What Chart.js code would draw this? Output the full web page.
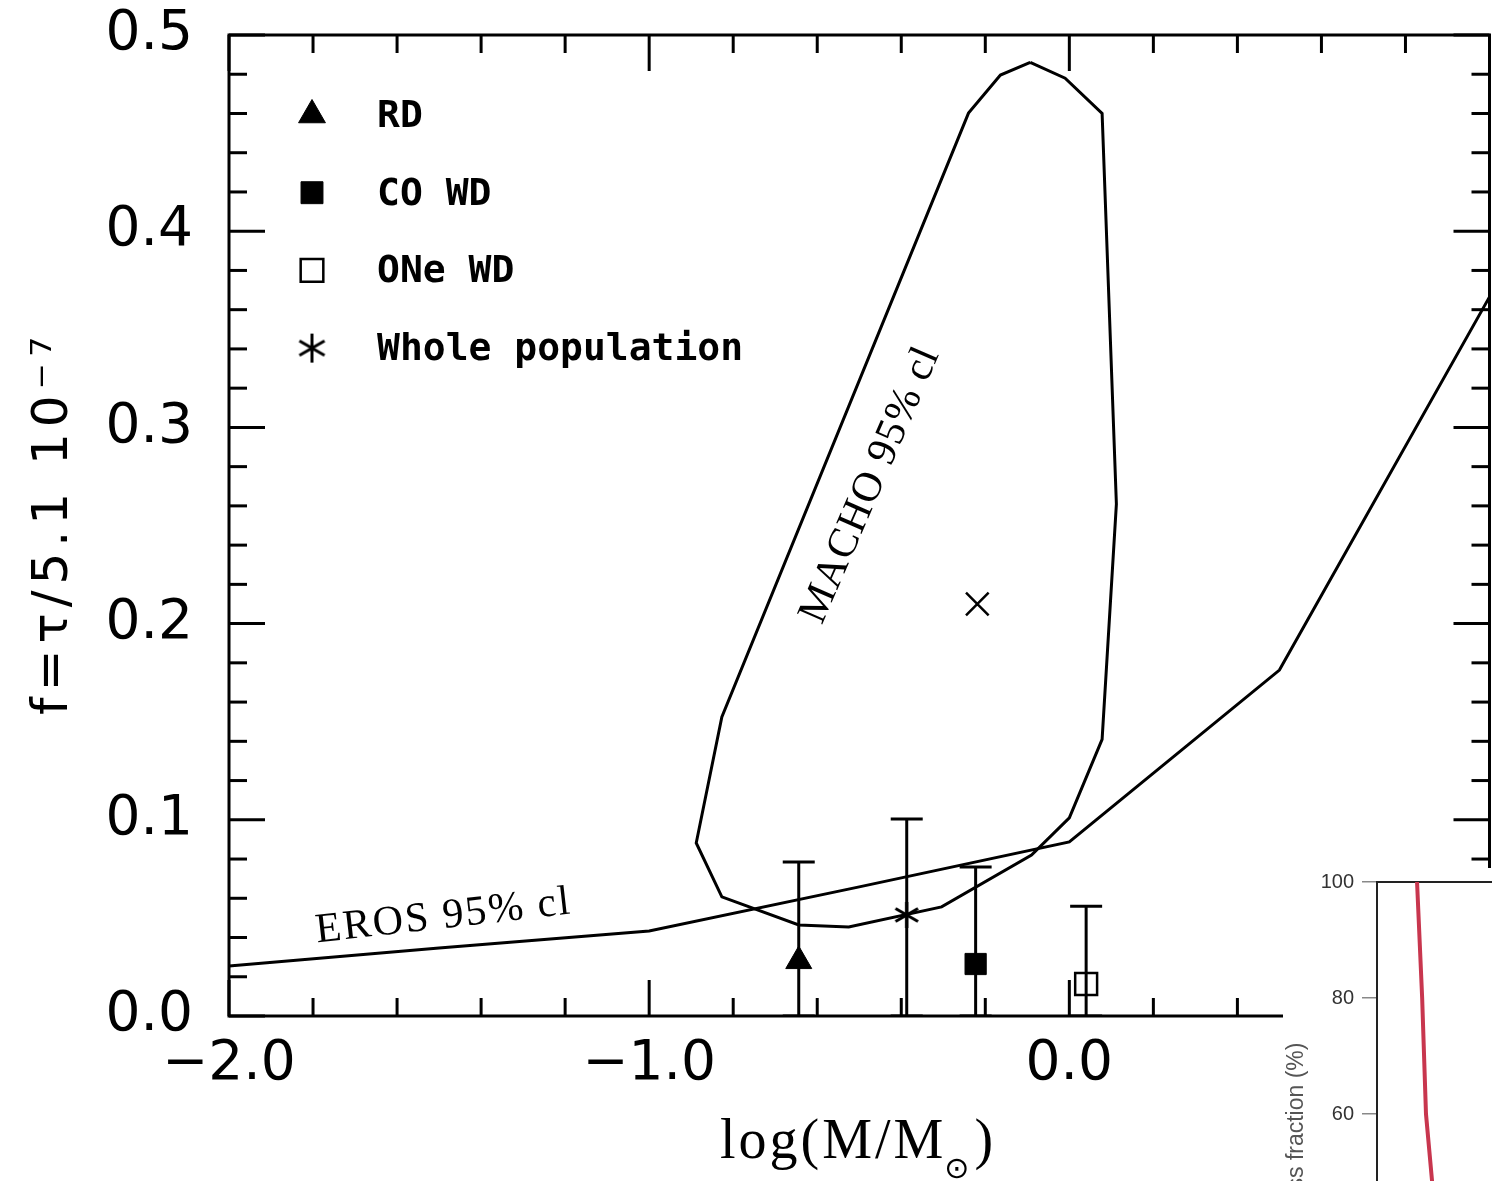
<!DOCTYPE html>
<html>
<head>
<meta charset="utf-8">
<script src="https://cdn.jsdelivr.net/npm/chart.js@4.4.1/dist/chart.umd.min.js"></script>
<style>
  html, body { margin: 0; padding: 0; background: #fff; overflow: hidden; width: 1492px; height: 1181px; }
  #mainWrap { position: absolute; left: 0; top: 0; width: 1492px; height: 1181px; overflow: hidden; }
  #main { position: absolute; left: 0; top: 0; }
  #insetWrap { position: absolute; left: 1283px; top: 868px; width: 209px; height: 313px; overflow: hidden; background: #fff; }
  #inset { position: absolute; left: 0; top: 0; }
</style>
</head>
<body>
<div id="mainWrap"><canvas id="main" width="1508" height="1181"></canvas></div>
<div id="insetWrap"><canvas id="inset" width="520" height="520"></canvas></div>
<script>
// ---------------- data ----------------
const xTickValues = [-2, -1, 0, 1];
const xTickLabels = ['\u22122.0', '\u22121.0', '0.0', ''];
const yTickValues = [0, 0.1, 0.2, 0.3, 0.4, 0.5];
const yTickLabels = ['0.0', '0.1', '0.2', '0.3', '0.4', '0.5'];

const erosX = [-2.0, -1.5, -1.0, -0.5, 0.0, 0.5, 1.0];
const erosY = [0.0255, 0.0347, 0.0433, 0.0658, 0.0887, 0.1763, 0.3665];

const machoX = [-0.093, -0.010, 0.078, 0.112, 0.078, 0.000, -0.090, -0.304, -0.525, -0.644, -0.827, -0.888, -0.827, -0.240, -0.164, -0.093];
const machoY = [0.486, 0.478, 0.460, 0.261, 0.141, 0.101, 0.082, 0.0556, 0.0454, 0.0464, 0.0607, 0.0882, 0.1524, 0.4602, 0.4796, 0.486];

const machoBestX = [-0.219];
const machoBestY = [0.210];

const popLabels = ['RD', 'CO WD', 'ONe WD', 'Whole population'];
const popX = [-0.644, -0.223, 0.040, -0.387];
const popY = [0.028, 0.0265, 0.0163, 0.0515];
const popErrLow = [0, 0, 0, 0];
const popErrHigh = [0.0785, 0.076, 0.056, 0.1004];

const insetYTicks = [100, 80, 60];
const insetLineX = [0.094, 0.106, 0.115, 0.131];
const insetLineY = [100, 80, 60, 47];

// ---------------- helpers ----------------
function makeAsterisk(size, lw) {
  const c = document.createElement('canvas');
  c.width = size; c.height = size;
  const g = c.getContext('2d');
  g.strokeStyle = '#000'; g.lineWidth = lw;
  const h = size / 2, r = size / 2 - 1;
  for (let k = 0; k < 3; k++) {
    const a = Math.PI / 2 + k * Math.PI / 3;
    g.beginPath();
    g.moveTo(h + r * Math.cos(a), h + r * Math.sin(a));
    g.lineTo(h - r * Math.cos(a), h - r * Math.sin(a));
    g.stroke();
  }
  return c;
}
const asterisk = makeAsterisk(28, 3);
const asteriskBig = makeAsterisk(31, 3);

const pts = (xs, ys) => xs.map((x, i) => ({ x: x, y: ys[i] }));

const popStyles = [
  { pointStyle: 'triangle', radius: 15, bg: '#000', bw: 1 },
  { pointStyle: 'rect', radius: 15, bg: '#000', bw: 1 },
  { pointStyle: 'rect', radius: 15.5, bg: 'rgba(0,0,0,0)', bw: 2.5 },
  { pointStyle: asterisk, radius: 14, bg: '#000', bw: 1 }
];

// ---------------- plugins ----------------
const frameTicks = {
  id: 'frameTicks',
  afterDatasetsDraw(chart) {
    const { ctx, chartArea: a, scales: { x, y } } = chart;
    ctx.save();
    ctx.strokeStyle = '#000';
    ctx.lineWidth = 3;
    ctx.strokeRect(a.left, a.top, a.right - a.left, a.bottom - a.top);
    const seg = (x1, y1, x2, y2) => { ctx.beginPath(); ctx.moveTo(x1, y1); ctx.lineTo(x2, y2); ctx.stroke(); };
    const nx = Math.round((x.max - x.min) / 0.2);
    for (let i = 0; i <= nx; i++) {
      const v = x.min + i * 0.2;
      const L = (i % 5 === 0) ? 36 : 18;
      const px = x.getPixelForValue(v);
      seg(px, a.bottom, px, a.bottom - L);
      seg(px, a.top, px, a.top + L);
    }
    const ny = Math.round((y.max - y.min) / 0.02);
    for (let i = 0; i <= ny; i++) {
      const v = y.min + i * 0.02;
      const L = (i % 5 === 0) ? 36 : 18;
      const py = y.getPixelForValue(v);
      seg(a.left, py, a.left + L, py);
      seg(a.right, py, a.right - L, py);
    }
    ctx.restore();
  }
};

const errorBars = {
  id: 'errorBars',
  beforeDatasetsDraw(chart) {
    const { ctx, chartArea: a, scales: { x, y } } = chart;
    ctx.save();
    ctx.beginPath();
    ctx.rect(a.left, a.top, a.right - a.left, a.bottom - a.top);
    ctx.clip();
    ctx.strokeStyle = '#000';
    ctx.lineWidth = 3;
    for (let i = 0; i < popX.length; i++) {
      const px = x.getPixelForValue(popX[i]);
      const lo = y.getPixelForValue(popErrLow[i]);
      const hi = y.getPixelForValue(popErrHigh[i]);
      ctx.beginPath();
      ctx.moveTo(px, lo); ctx.lineTo(px, hi);
      ctx.moveTo(px - 16, hi); ctx.lineTo(px + 16, hi);
      ctx.moveTo(px - 16, lo); ctx.lineTo(px + 16, lo);
      ctx.stroke();
    }
    ctx.restore();
  }
};

const legendAndText = {
  id: 'legendAndText',
  afterDraw(chart) {
    const { ctx, scales: { x, y } } = chart;
    ctx.save();
    // legend
    const mx = 312, tx = 377, top = 115, gap = 77.7;
    for (let i = 0; i < popLabels.length; i++) {
      const cy = top + i * gap;
      const st = popStyles[i];
      ctx.fillStyle = st.bg;
      ctx.strokeStyle = '#000';
      ctx.lineWidth = st.bw;
      const ps = i === 3 ? asteriskBig : st.pointStyle;
      Chart.helpers.drawPoint(ctx, { pointStyle: ps, rotation: 0, radius: st.radius + 0.5, borderWidth: st.bw }, mx, cy);
      ctx.fillStyle = '#000';
      ctx.font = 'bold 38px "DejaVu Sans Mono"';
      ctx.textAlign = 'left';
      ctx.textBaseline = 'middle';
      ctx.fillText(popLabels[i], tx, cy + 2);
    }
    // y axis title
    ctx.save();
    ctx.translate(67, 523);
    ctx.rotate(-Math.PI / 2);
    ctx.font = '50px "DejaVu Sans"';
    ctx.letterSpacing = '6px';
    ctx.textAlign = 'center';
    ctx.textBaseline = 'alphabetic';
    ctx.fillStyle = '#000';
    ctx.fillText('f=\u03c4/5.1 10\u207b\u2077', 0, 0);
    ctx.restore();
    // x axis title with subscript sun symbol
    ctx.save();
    ctx.fillStyle = '#000';
    ctx.textBaseline = 'alphabetic';
    ctx.textAlign = 'left';
    ctx.letterSpacing = '3px';
    const mainFont = '56px "Liberation Serif"';
    const subFont = '30px "DejaVu Sans"';
    ctx.font = mainFont;
    const p1 = 'log(M/M', p3 = ')';
    const w1 = ctx.measureText(p1).width, w3 = ctx.measureText(p3).width;
    ctx.font = subFont;
    const w2 = ctx.measureText('\u2299').width;
    let sx = 858 - (w1 + w2 + w3) / 2;
    const base = 1158;
    ctx.font = mainFont; ctx.fillText(p1, sx, base); sx += w1;
    ctx.font = subFont; ctx.fillText('\u2299', sx - 2, base + 20); sx += w2;
    ctx.font = mainFont; ctx.fillText(p3, sx, base);
    ctx.restore();
    // curve labels
    const label = (text, vx, vy, deg, font, ls) => {
      ctx.save();
      ctx.translate(x.getPixelForValue(vx), y.getPixelForValue(vy));
      ctx.rotate(deg * Math.PI / 180);
      ctx.font = font;
      ctx.letterSpacing = ls;
      ctx.textAlign = 'center';
      ctx.textBaseline = 'middle';
      ctx.fillStyle = '#000';
      ctx.fillText(text, 0, 0);
      ctx.restore();
    };
    label('EROS 95% cl', -1.489, 0.0505, -6.5, '42px "Liberation Serif"', '2px');
    label('MACHO 95% cl', -0.473, 0.2706, -66.6, '42px "Liberation Serif"', '1px');
    ctx.restore();
  }
};

// ---------------- main chart ----------------
const popDatasets = popLabels.map((lab, i) => ({
  label: lab,
  data: [{ x: popX[i], y: popY[i] }],
  showLine: false,
  pointStyle: popStyles[i].pointStyle,
  pointRadius: popStyles[i].radius,
  pointBackgroundColor: popStyles[i].bg,
  pointBorderColor: '#000',
  pointBorderWidth: popStyles[i].bw
}));

new Chart(document.getElementById('main'), {
  type: 'scatter',
  data: {
    datasets: [
      { label: 'EROS 95% cl', data: pts(erosX, erosY), showLine: true, pointRadius: 0, borderColor: '#000', borderWidth: 3, fill: false },
      { label: 'MACHO 95% cl', data: pts(machoX, machoY), showLine: true, pointRadius: 0, borderColor: '#000', borderWidth: 3, fill: false },
      { label: 'MACHO best fit', data: pts(machoBestX, machoBestY), showLine: false, pointStyle: 'crossRot', pointRadius: 16, pointBorderColor: '#000', pointBorderWidth: 2.5 }
    ].concat(popDatasets)
  },
  options: {
    responsive: false,
    animation: false,
    layout: { padding: { top: 35, right: 3, bottom: 0, left: 0 } },
    plugins: { legend: { display: false }, tooltip: { enabled: false } },
    scales: {
      x: {
        type: 'linear', min: -2, max: 1,
        afterBuildTicks(s) { s.ticks = xTickValues.map(v => ({ value: v })); },
        ticks: { callback: (v, i) => xTickLabels[i], font: { family: 'DejaVu Sans', size: 55 }, color: '#000', padding: 16, maxRotation: 0, autoSkip: false },
        grid: { display: false, drawTicks: false },
        border: { display: false },
        afterFit(s) { s.height = 165; s.paddingLeft = 0; s.paddingRight = 0; s.paddingTop = 0; s.paddingBottom = 0; }
      },
      y: {
        type: 'linear', min: 0, max: 0.5,
        afterBuildTicks(s) { s.ticks = yTickValues.map(v => ({ value: v })); },
        ticks: { callback: (v, i) => yTickLabels[i], font: { family: 'DejaVu Sans', size: 55 }, color: '#000', padding: 36, autoSkip: false },
        grid: { display: false, drawTicks: false },
        border: { display: false },
        afterFit(s) { s.width = 229; s.paddingLeft = 0; s.paddingRight = 0; s.paddingTop = 0; s.paddingBottom = 0; }
      }
    }
  },
  plugins: [errorBars, frameTicks, legendAndText]
});

// ---------------- inset (partial second figure) ----------------
new Chart(document.getElementById('inset'), {
  type: 'scatter',
  data: {
    datasets: [{ label: 'fraction', data: pts(insetLineX, insetLineY), showLine: true, pointRadius: 0, borderColor: '#c8364e', borderWidth: 4, fill: false }]
  },
  options: {
    responsive: false,
    animation: false,
    layout: { padding: { top: 14, right: 0, bottom: 6, left: 0 } },
    plugins: { legend: { display: false }, tooltip: { enabled: false } },
    scales: {
      x: {
        type: 'linear', position: 'top', min: 0, max: 1,
        ticks: { display: false },
        grid: { display: false, drawTicks: false },
        border: { display: true, color: '#222', width: 2 },
        afterFit(s) { s.height = 0; s.paddingLeft = 0; s.paddingRight = 0; s.paddingTop = 0; s.paddingBottom = 0; }
      },
      y: {
        type: 'linear', min: 13.8, max: 100,
        afterBuildTicks(s) { s.ticks = insetYTicks.map(v => ({ value: v })); },
        ticks: { font: { family: 'Liberation Sans', size: 20 }, color: '#333', padding: 8 },
        grid: { display: true, drawOnChartArea: false, drawTicks: true, tickLength: 15, color: '#888', lineWidth: 1.5 },
        border: { display: true, color: '#222', width: 2 },
        title: { display: true, text: 'Mass fraction (%)', font: { family: 'Liberation Sans', size: 23 }, color: '#555', padding: { top: 0, bottom: 0 } },
        afterFit(s) { s.width = 94; s.paddingLeft = 0; s.paddingRight = 0; s.paddingTop = 0; s.paddingBottom = 0; }
      }
    }
  }
});
</script>
</body>
</html>
